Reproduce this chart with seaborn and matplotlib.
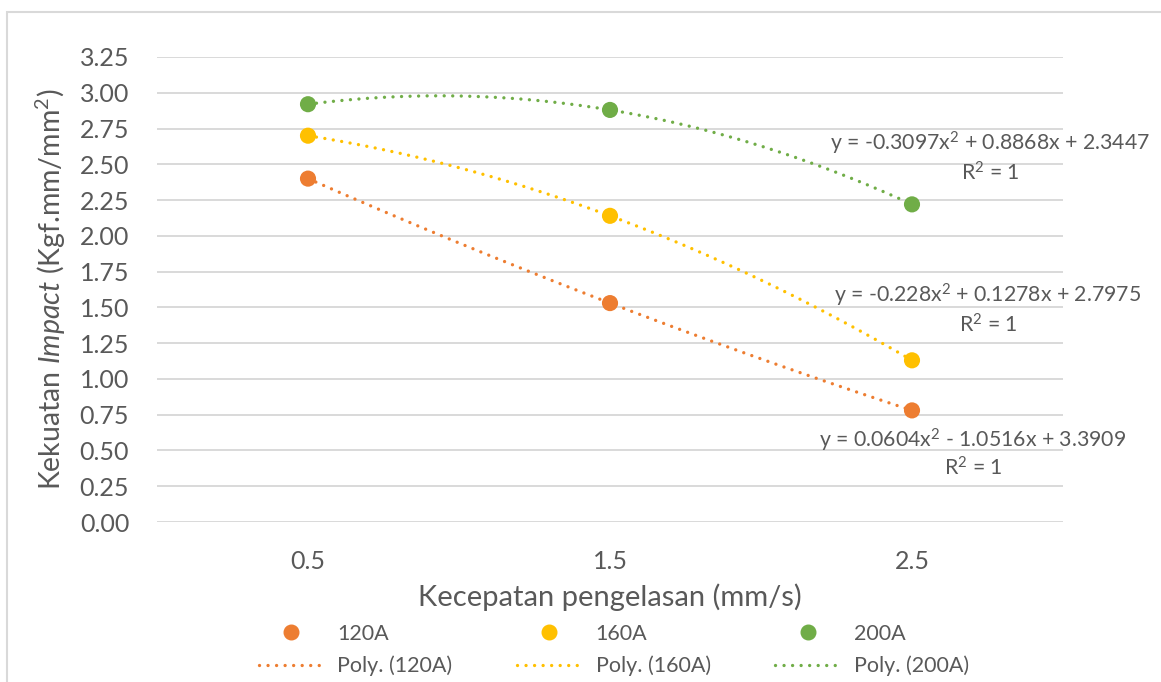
import numpy as np
import pandas as pd
import matplotlib
matplotlib.use("Agg")
import matplotlib.pyplot as plt
from matplotlib.lines import Line2D
from matplotlib.patches import Rectangle
import seaborn as sns

# ---- data ----
x_labels = ["0.5", "1.5", "2.5"]
series_names = ["120A", "160A", "200A"]
vals_120 = [2.40, 1.53, 0.78]
vals_160 = [2.70, 2.14, 1.13]
vals_200 = [2.92, 2.88, 2.22]
equations = [
    "y = 0.0604x$^2$ - 1.0516x + 3.3909",
    "y = -0.228x$^2$ + 0.1278x + 2.7975",
    "y = -0.3097x$^2$ + 0.8868x + 2.3447",
]
r2_label = "R$^2$ = 1"
y_ticks = [0.00, 0.25, 0.50, 0.75, 1.00, 1.25, 1.50, 1.75, 2.00, 2.25, 2.50, 2.75, 3.00, 3.25]
colors = ["#ED7D31", "#FFC000", "#70AD47"]

sns.set_theme(style="white")
plt.rcParams["font.family"] = ["Lato", "DejaVu Sans"]
plt.rcParams["mathtext.fontset"] = "custom"
plt.rcParams["mathtext.rm"] = "Lato"
plt.rcParams["mathtext.it"] = "Lato:italic"
plt.rcParams["mathtext.default"] = "rm"
TXT = "#595959"

idx = np.arange(1, len(x_labels) + 1)
all_vals = [vals_120, vals_160, vals_200]
df = pd.DataFrame({
    "xi": np.tile(idx, 3),
    "val": np.concatenate(all_vals),
    "series": np.repeat(series_names, len(idx)),
})

W, H = 1161, 682
fig = plt.figure(figsize=(W / 100, H / 100), dpi=100)
fig.patch.set_facecolor("white")
fig.patches.append(Rectangle((7 / W, -0.1), 1.2, 1 - 12 / H + 0.1, transform=fig.transFigure,
                             fill=False, edgecolor="#D9D9D9", linewidth=1.5))

ax = fig.add_axes([157 / W, 1 - 522 / H, 906 / W, 465 / H])
ax.set_facecolor("none")

DOT = (0, (0.01, 2.55))
# trendlines (order-2 polynomial fit on category index, like Excel)
xs = np.linspace(1, 3, 200)
for vals, c in zip(all_vals, colors):
    coef = np.polyfit(idx, vals, 2)
    ax.plot(xs, np.polyval(coef, xs), color=c, linewidth=2.4,
            linestyle=DOT, dash_capstyle="round", zorder=2)

sns.scatterplot(data=df, x="xi", y="val", hue="series", palette=colors, s=135,
                linewidth=0, legend=False, ax=ax, zorder=3)

ax.set_xlim(0.5, 3.5)
ax.set_ylim(0, 3.25)
ax.set_yticks(y_ticks)
ax.set_yticklabels([f"{t:.2f}" for t in y_ticks])
ax.set_xticks(idx)
ax.set_xticklabels(x_labels)
ax.tick_params(axis="both", length=0, labelsize=18, labelcolor=TXT)
ax.tick_params(axis="y", pad=20)
ax.tick_params(axis="x", pad=20)
ax.grid(axis="y", color="#D9D9D9", linewidth=1.4)
ax.set_axisbelow(True)
for s in ax.spines.values():
    s.set_visible(False)

ax.set_xlabel("Kecepatan pengelasan (mm/s)", fontsize=21, color=TXT)
ax.xaxis.set_label_coords(0.5, -0.133)
ax.set_ylabel(r"Kekuatan $\mathit{Impact}$ (Kgf.mm/mm$^2$)", fontsize=20.5, color=TXT)
ax.yaxis.set_label_coords(-0.098, 0.5)

# trendline equation labels
eq_pos = [(3.202, 0.573, 0.377), (3.252, 1.586, 1.377), (3.258, 2.649, 2.439)]
for eq, (xc, y1, y2) in zip(equations, eq_pos):
    ax.text(xc, y1, eq, ha="center", va="center", fontsize=15.3, color=TXT, clip_on=False)
    ax.text(xc, y2, r2_label, ha="center", va="center", fontsize=15.3, color=TXT, clip_on=False)

# legend
handles, labels = [], []
for name, c in zip(series_names, colors):
    handles.append(Line2D([], [], color=c, marker="o", linestyle="none", markersize=10.5))
    labels.append(name)
    handles.append(Line2D([], [], color=c, linewidth=2.4, linestyle=DOT,
                          dash_capstyle="round"))
    labels.append(f"Poly. ({name})")
leg = fig.legend(handles, labels, ncol=3, loc="center", bbox_to_anchor=(614 / W, 1 - 650 / H),
                 frameon=False, fontsize=15.5, labelcolor=TXT, handlelength=3.0,
                 columnspacing=3.0, handletextpad=0.65, labelspacing=0.55)

fig.savefig("out.png", dpi=100)
